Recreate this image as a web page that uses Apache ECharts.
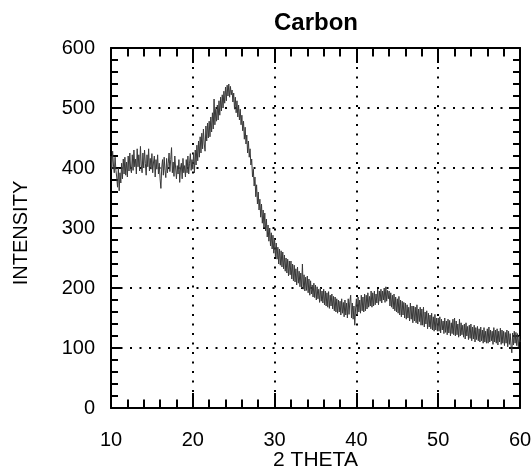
<!DOCTYPE html>
<html>
<head>
<meta charset="utf-8">
<script src="https://cdn.jsdelivr.net/npm/echarts@6/dist/echarts.min.js"></script>
<style>
  html, body { margin: 0; padding: 0; background: #fff; }
  #chart { width: 531px; height: 469px; }
</style>
</head>
<body>
<div id="chart"></div>
<script>
// ---- data ----
const chartTitle = "Carbon";
const xAxisName = "2 THETA";
const yAxisName = "INTENSITY";
const xTicks = [10, 20, 30, 40, 50, 60];
const yTicks = [0, 100, 200, 300, 400, 500, 600];
const thetaStart = 10;   // first sample (degrees 2θ)
const thetaStep = 0.1;   // sampling step (degrees)
// intensity, one row per degree (10 samples each)
const intensity = [
  420, 398, 428, 405, 392, 418, 396, 385, 368, 400,
  362, 392, 375, 408, 382, 415, 390, 418, 388, 410,
  385, 420, 395, 425, 398, 392, 422, 396, 430, 402,
  415, 390, 432, 402, 422, 395, 436, 405, 392, 425,
  400, 430, 408, 388, 422, 402, 432, 395, 416, 398,
  424, 392, 410, 420, 385, 414, 398, 422, 390, 408,
  382, 366, 400, 414, 388, 418, 396, 384, 416, 392,
  408, 425, 394, 414, 434, 392, 410, 386, 420, 400,
  382, 404, 390, 414, 376, 400, 408, 382, 416, 392,
  404, 385, 414, 392, 420, 390, 408, 424, 396, 414,
  398, 425, 392, 430, 405, 438, 412, 445, 418, 452,
  425, 458, 432, 465, 440, 428, 470, 445, 475, 450,
  478, 452, 485, 460, 492, 465, 515, 472, 498, 478,
  505, 480, 512, 488, 518, 495, 522, 500, 528, 508,
  535, 512, 538, 520, 540, 518, 536, 522, 530, 510,
  525, 498, 518, 492, 512, 485, 505, 480, 498, 472,
  488, 462, 478, 448, 468, 440, 455, 425, 445, 418,
  432, 405, 415, 385, 398, 370, 385, 352, 372, 340,
  360, 330, 348, 318, 340, 308, 330, 300, 325, 295,
  315, 285, 305, 278, 300, 270, 292, 265, 288, 258,
  282, 252, 275, 248, 268, 240, 265, 238, 262, 235,
  260, 232, 255, 228, 250, 225, 248, 220, 245, 222,
  245, 215, 240, 212, 238, 210, 232, 205, 235, 208,
  228, 202, 225, 200, 240, 198, 222, 195, 218, 196,
  220, 192, 215, 188, 212, 190, 205, 185, 208, 184,
  205, 180, 202, 182, 198, 176, 200, 178, 195, 175,
  198, 172, 195, 170, 192, 168, 194, 166, 188, 170,
  190, 165, 186, 162, 185, 160, 182, 158, 180, 160,
  178, 155, 182, 158, 176, 152, 180, 155, 175, 150,
  182, 156, 178, 188, 150, 175, 148, 170, 138, 165,
  182, 155, 185, 160, 180, 158, 188, 162, 185, 160,
  190, 162, 188, 165, 192, 168, 186, 170, 195, 168,
  192, 170, 195, 172, 190, 175, 198, 172, 195, 178,
  198, 175, 195, 180, 200, 176, 202, 178, 196, 182,
  195, 170, 192, 168, 188, 165, 190, 162, 185, 160,
  182, 158, 186, 155, 180, 152, 178, 155, 176, 150,
  175, 148, 172, 150, 168, 145, 175, 148, 170, 142,
  170, 145, 168, 142, 172, 140, 165, 144, 168, 138,
  165, 138, 168, 135, 160, 140, 162, 132, 158, 135,
  155, 132, 158, 130, 152, 128, 156, 130, 150, 128,
  150, 128, 152, 125, 148, 130, 145, 124, 150, 126,
  145, 122, 148, 125, 146, 120, 142, 124, 148, 122,
  150, 120, 145, 122, 140, 118, 148, 120, 142, 122,
  138, 118, 140, 115, 142, 120, 136, 114, 138, 116,
  140, 112, 135, 115, 138, 110, 134, 114, 136, 112,
  132, 110, 135, 112, 130, 108, 134, 110, 128, 108,
  132, 108, 135, 110, 130, 112, 128, 106, 134, 110,
  130, 108, 132, 105, 128, 110, 133, 106, 130, 108,
  128, 104, 126, 108, 130, 102, 128, 106, 124, 104,
  92, 125, 105, 128, 108, 126, 104, 124, 102, 120,
  110
];

// ---- build ----
const seriesData = intensity.map((v, i) => [+(thetaStart + i * thetaStep).toFixed(1), v]);
const FONT = "'Liberation Sans', Arial, Helvetica, sans-serif";
const xMin = xTicks[0], xMax = xTicks[xTicks.length - 1], xInt = xTicks[1] - xTicks[0];
const yMin = yTicks[0], yMax = yTicks[yTicks.length - 1], yInt = yTicks[1] - yTicks[0];

const dotted = { color: '#000', width: 2, type: [2, 7.5] };
const axisLine = { show: true, onZero: false, lineStyle: { color: '#000', width: 2 } };
const xTick = { show: true, inside: true, length: 15, lineStyle: { color: '#000', width: 2 } };
const xMinor = { show: true, splitNumber: 5, length: 8.5, lineStyle: { color: '#000', width: 2 } };
const yTick = { show: true, inside: true, length: 11, lineStyle: { color: '#000', width: 2 } };
const yMinor = { show: true, splitNumber: 5, length: 7, lineStyle: { color: '#000', width: 2 } };

const chart = echarts.init(document.getElementById('chart'), null, { renderer: 'canvas' });
chart.setOption({
  backgroundColor: '#fff',
  animation: false,
  title: {
    text: chartTitle, left: 311, top: 6, textAlign: 'center',
    textStyle: { fontFamily: FONT, fontWeight: 'bold', fontSize: 24, color: '#000' }
  },
  grid: { left: 111, right: 11, top: 48, bottom: 61, outerBoundsMode: 'none', containLabel: false },
  graphic: [{
    type: 'text', x: 21, y: 233, rotation: Math.PI / 2,
    style: { text: yAxisName, fontFamily: FONT, fontSize: 20, fill: '#000',
             textAlign: 'center', textVerticalAlign: 'middle' }
  }],
  xAxis: [{
    type: 'value', min: xMin, max: xMax, interval: xInt, position: 'bottom',
    name: xAxisName, nameLocation: 'middle', nameGap: 42, nameMoveOverlap: false,
    nameTextStyle: { fontFamily: FONT, fontSize: 21, color: '#000' },
    axisLine, axisTick: xTick, minorTick: xMinor,
    axisLabel: { margin: 22, fontFamily: FONT, fontSize: 20, color: '#000' },
    splitLine: { show: true, lineStyle: dotted }
  }, {
    type: 'value', min: xMin, max: xMax, interval: xInt, position: 'top',
    axisLine, axisTick: xTick, minorTick: xMinor,
    axisLabel: { show: false }, splitLine: { show: false }
  }],
  yAxis: [{
    type: 'value', min: yMin, max: yMax, interval: yInt, position: 'left',
    axisLine, axisTick: yTick, minorTick: yMinor,
    axisLabel: { margin: 16, fontFamily: FONT, fontSize: 20, color: '#000' },
    splitLine: { show: true, lineStyle: dotted }
  }, {
    type: 'value', min: yMin, max: yMax, interval: yInt, position: 'right',
    axisLine, axisTick: yTick, minorTick: yMinor,
    axisLabel: { show: false }, splitLine: { show: false }
  }],
  series: [{
    type: 'line', xAxisIndex: 0, yAxisIndex: 0,
    data: seriesData, showSymbol: false, symbol: 'none',
    lineStyle: { color: '#383838', width: 1 },
    z: 5
  }]
});
</script>
</body>
</html>
